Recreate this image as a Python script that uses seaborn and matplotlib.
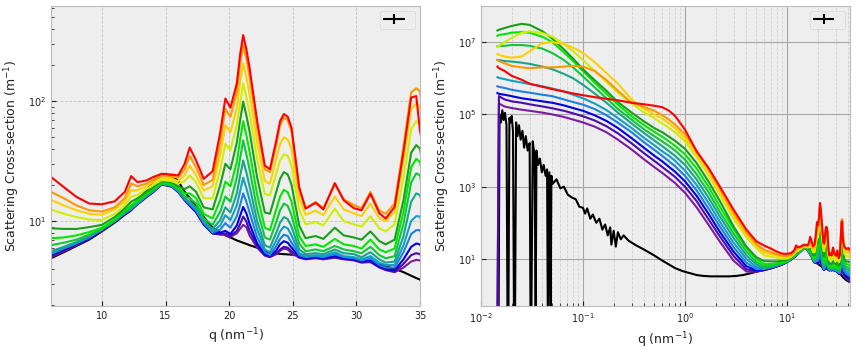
import pandas as pd
import matplotlib
matplotlib.use('Agg')
import matplotlib.pyplot as plt
import matplotlib.ticker as mticker
import seaborn as sns

plt.style.use('bmh')
plt.rcParams['font.family'] = ['DejaVu Sans']
plt.rcParams['mathtext.fontset'] = 'dejavusans'

# q grids (nm^-1)
q_lo = [0.0145, 0.015, 0.017, 0.02, 0.025, 0.03, 0.04, 0.05, 0.065,
        0.08, 0.1, 0.13, 0.17, 0.22, 0.3, 0.4, 0.5, 0.6,
        0.7, 0.8, 1.0, 1.3, 1.7, 2.2, 3.0, 4.0, 5.0]
q_hi = [6, 7, 8, 9, 10, 11,
        11.8, 12.3, 12.8, 13.5, 14.0, 14.7,
        15.5, 16.0, 16.5, 16.9, 17.4, 18.0,
        18.7, 19.3, 19.7, 20.1, 20.6, 20.85, 21.1, 21.35,
        21.6, 22.2, 22.8, 23.2, 23.7, 24.0, 24.3, 24.6,
        24.9, 25.5, 26.0, 26.8, 27.4, 28.3,
        29.0, 29.8, 30.4, 31.1, 31.8, 32.3,
        33.0, 33.7, 34.3, 34.7, 35.0,
        35.5, 36.5, 38, 40, 41.5]

# black (reference) curve, noisy at low q
q_black_lo = [0.0149, 0.0152, 0.0157, 0.0162, 0.0167, 0.0172, 0.0178, 0.0182, 0.0186, 0.0190,
              0.0195, 0.0200, 0.0206, 0.0211, 0.0216, 0.0221, 0.0228, 0.0236, 0.0245, 0.0255,
              0.0265, 0.0275, 0.0287, 0.0300, 0.0306, 0.0312, 0.0322, 0.0335, 0.0344, 0.0350,
              0.0362, 0.0378, 0.0395, 0.0412, 0.0430, 0.0445, 0.0452, 0.0468, 0.0482, 0.0490,
              0.0505, 0.055, 0.060, 0.065, 0.071, 0.078, 0.085, 0.092, 0.10, 0.105,
              0.11, 0.118, 0.125, 0.135, 0.145, 0.155, 0.165, 0.175, 0.185, 0.19,
              0.20, 0.21, 0.22, 0.235, 0.25, 0.28, 0.33, 0.4, 0.5, 0.6,
              0.7, 0.8, 0.95, 1.1, 1.3, 1.5, 1.8, 2.2, 2.7, 3.2,
              3.7, 4.2, 4.8, 5.3]
I_black_lo = [0.3, 1.0e5, 6e4, 1.3e5, 7e4, 1.1e5, 5e4, 0.3, 0.3, 8e4,
              6e4, 9e4, 3.5e4, 0.3, 0.3, 6e4, 2.5e4, 5e4, 2e4, 3.5e4,
              1.2e4, 2.5e4, 1.0e4, 1.6e4, 0.3, 0.3, 1.8e4, 7e3, 0.3, 1.0e4,
              4e3, 6e3, 2.5e3, 4e3, 2e3, 3e3, 0.3, 2.5e3, 0.3, 2e3,
              1.2e3, 1.6e3, 900, 1.0e3, 600, 500, 450, 280, 260, 180,
              250, 130, 170, 100, 130, 65, 90, 45, 75, 25,
              60, 22, 55, 35, 45, 32, 24, 18, 12.5, 9.0,
              7.0, 5.6, 4.6, 4.1, 3.6, 3.4, 3.3, 3.3, 3.3, 3.4,
              3.6, 3.9, 4.3, 4.6]
I_black_hi = [4.9, 5.5, 6.2, 7.0, 8.2, 9.7,
              11.3, 12.3, 14.5, 18, 21, 24.5,
              24, 21.5, 17.5, 15.5, 13.5, 10.8,
              8.8, 8.0, 7.6, 7.3, 6.9, 6.75, 6.6, 6.45,
              6.3, 6.0, 5.6, 5.45, 5.35, 5.32, 5.3, 5.28,
              5.25, 5.2, 5.15, 5.1, 5.05, 5.0,
              4.95, 4.85, 4.7, 4.55, 4.35, 4.2,
              4.0, 3.75, 3.5, 3.35, 3.25,
              3.1, 2.9, 2.6, 2.4, 2.3]

I_purple_lo = [0.2, 2.0e5, 1.66e5, 1.5e5, 1.35e5, 1.26e5, 1.12e5, 1.0e5, 8.5e4,
               7.2e4, 6.0e4, 4.6e4, 3.2e4, 2.0e4, 1.07e4, 5.6e3, 3.5e3, 2.4e3,
               1.7e3, 1.26e3, 680, 270, 89, 30, 8.9, 4.5, 4.4]
I_purple_hi = [5.0, 5.6, 6.3, 7.1, 8.3, 9.8,
               11.4, 12.4, 13.8, 15.8, 17.3, 20.2,
               19.3, 17.4, 14.9, 13.4, 11.8, 9.3,
               7.9, 7.7, 7.7, 7.4, 7.9, 8.6, 9.3, 8.9,
               7.6, 6.0, 5.15, 5.0, 5.3, 5.65, 5.9, 5.8,
               5.4, 4.95, 4.8, 4.9, 4.8, 4.95,
               4.8, 4.7, 4.5, 4.55, 4.1, 3.9,
               3.75, 4.1, 4.6, 4.75, 4.7,
               4.0, 3.4, 2.9, 2.6, 2.4]

I_indigo_lo = [0.2, 3.2e5, 2.6e5, 2.3e5, 2.1e5, 1.9e5, 1.66e5, 1.48e5, 1.26e5,
               1.07e5, 8.9e4, 6.8e4, 4.7e4, 3.0e4, 1.58e4, 8.3e3, 5.2e3, 3.5e3,
               2.5e3, 1.86e3, 1.0e3, 400, 126, 42, 12, 5.2, 4.6]
I_indigo_hi = [5.1, 5.7, 6.35, 7.15, 8.35, 9.85,
               11.45, 12.45, 13.85, 15.9, 17.4, 20.3,
               19.4, 17.5, 15, 13.5, 11.9, 9.4,
               7.9, 7.8, 7.9, 7.5, 8.3, 9.4, 10.9, 9.9,
               8.3, 6.2, 5.2, 5.05, 5.4, 5.8, 6.1, 6.0,
               5.6, 5.0, 4.85, 4.95, 4.85, 5.0,
               4.85, 4.75, 4.55, 4.6, 4.15, 3.95,
               3.8, 4.4, 5.2, 5.4, 5.3,
               4.4, 3.6, 3.1, 2.8, 2.6]

I_blue_lo = [3.9e5, 3.7e5, 3.5e5, 3.2e5, 2.8e5, 2.6e5, 2.3e5, 2.1e5, 1.78e5,
             1.5e5, 1.26e5, 9.5e4, 6.6e4, 4.2e4, 2.2e4, 1.17e4, 7.2e3, 5.0e3,
             3.5e3, 2.6e3, 1.41e3, 560, 178, 56, 15.8, 6.3, 4.8]
I_blue_hi = [5.2, 5.8, 6.4, 7.2, 8.4, 9.9,
             11.5, 12.5, 13.9, 16, 17.5, 20.4,
             19.5, 17.6, 15.1, 13.6, 12, 9.5,
             7.9, 8.0, 8.3, 7.8, 9.2, 11.0, 13.1, 11.6,
             9.5, 6.5, 5.3, 5.1, 5.7, 6.4, 6.8, 6.6,
             6.0, 5.1, 4.9, 5.0, 4.9, 5.1,
             4.9, 4.8, 4.6, 4.7, 4.2, 4.0,
             3.9, 4.8, 6.1, 6.5, 6.4,
             5, 4, 3.4, 3.1, 2.9]

I_dodger_lo = [6.0e5, 5.8e5, 5.4e5, 4.8e5, 4.3e5, 4.0e5, 3.5e5, 3.2e5, 2.6e5,
               2.2e5, 1.86e5, 1.41e5, 9.5e4, 5.9e4, 3.2e4, 1.66e4, 1.05e4, 7.1e3,
               5.0e3, 3.7e3, 2.0e3, 790, 250, 79, 21, 7.9, 5.2]
I_dodger_hi = [5.3, 5.9, 6.5, 7.3, 8.5, 10,
               11.6, 12.6, 14, 16.1, 17.6, 20.5,
               19.6, 17.7, 15.2, 13.8, 12.2, 9.6,
               8.0, 8.5, 9.6, 8.8, 11, 13.5, 17, 14.5,
               11.8, 7.3, 5.5, 5.2, 6.2, 7.1, 7.7, 7.5,
               6.6, 5.2, 5.0, 5.1, 5.0, 5.3,
               5.0, 4.9, 4.7, 4.9, 4.3, 4.1,
               4.1, 5.5, 7.8, 8.4, 8.4,
               6, 4.5, 3.9, 3.6, 3.3]

I_cyan_lo = [1.07e6, 1.02e6, 9.5e5, 8.5e5, 7.6e5, 6.9e5, 6.0e5, 5.2e5, 4.3e5,
             3.5e5, 2.8e5, 2.0e5, 1.32e5, 7.9e4, 4.2e4, 2.2e4, 1.41e4, 9.5e3,
             7.1e3, 5.2e3, 2.8e3, 1.12e3, 355, 107, 28, 10, 6.0]
I_cyan_hi = [5.4, 6.0, 6.6, 7.4, 8.5, 10,
             11.7, 12.7, 14, 16.2, 17.7, 20.5,
             19.7, 17.8, 15.3, 14, 12.5, 9.8,
             8.2, 9.2, 11.2, 10.2, 13.5, 17.5, 23, 18.8,
             15, 8.5, 5.8, 5.5, 6.9, 8.2, 9.0, 8.7,
             7.6, 5.4, 5.1, 5.2, 5.1, 5.5,
             5.1, 5.0, 4.8, 5.1, 4.5, 4.3,
             4.3, 6.3, 10, 11, 10.9,
             7.5, 5.2, 4.5, 4.2, 3.9]

I_teal_lo = [3.2e6, 3.2e6, 3.0e6, 2.9e6, 2.7e6, 2.5e6, 2.1e6, 1.78e6, 1.32e6,
             1.0e6, 6.6e5, 3.8e5, 2.1e5, 1.12e5, 5.6e4, 3.0e4, 1.9e4, 1.32e4,
             9.5e3, 7.1e3, 4.0e3, 1.58e3, 500, 148, 38, 12.6, 7.1]
I_teal_hi = [5.6, 6.1, 6.7, 7.5, 8.5, 10,
             11.8, 12.8, 14.2, 16.3, 17.8, 20.5,
             19.8, 18, 15.5, 14.5, 13, 10,
             8.6, 10.2, 13, 11.8, 17, 23.5, 32, 25.5,
             19.5, 10, 6.3, 6.0, 8, 9.7, 10.8, 10.4,
             9, 5.8, 5.3, 5.4, 5.3, 5.8,
             5.4, 5.3, 5.0, 5.5, 4.8, 4.5,
             4.6, 7.5, 14.5, 17, 16.5,
             9.5, 6, 5.2, 5, 4.6]

I_green_lo = [7.6e6, 7.8e6, 7.9e6, 8.3e6, 8.3e6, 7.9e6, 6.6e6, 5.0e6, 3.2e6,
              2.0e6, 1.12e6, 5.6e5, 2.8e5, 1.41e5, 7.1e4, 3.8e4, 2.5e4, 1.78e4,
              1.32e4, 1.0e4, 5.6e3, 2.2e3, 710, 200, 50, 16, 8.3]
I_green_hi = [6.3, 6.6, 7.0, 7.7, 8.6, 10.1,
              12, 13, 14.5, 16.5, 18, 20.5,
              20, 18.5, 16, 15.5, 14, 10.5,
              9.3, 12, 16, 14.5, 23, 33, 47, 36,
              27, 12.5, 7.3, 7.0, 9.8, 12.3, 14, 13.4,
              11.2, 6.5, 5.6, 5.8, 5.6, 6.2,
              5.8, 5.6, 5.4, 6.1, 5.2, 4.9,
              5.1, 9.5, 21, 25, 24,
              12, 7, 6, 5.8, 5.4]

I_lime_lo = [1.5e7, 1.58e7, 1.66e7, 1.82e7, 1.9e7, 1.82e7, 1.41e7, 1.0e7, 5.2e6,
             3.0e6, 1.58e6, 7.6e5, 3.7e5, 1.86e5, 8.9e4, 5.0e4, 3.3e4, 2.4e4,
             1.78e4, 1.35e4, 7.9e3, 3.2e3, 1.0e3, 280, 66, 20, 10]
I_lime_hi = [7.2, 7.3, 7.6, 8.1, 8.8, 10.3,
             12.3, 13.5, 15, 17, 18.5, 21,
             20.5, 19, 17, 17, 15.5, 11.5,
             10.5, 15, 21.3, 19.5, 31, 47, 68, 52,
             38, 16.5, 8.8, 8.4, 12.5, 16, 18.2, 17.4,
             14.5, 7.5, 6.2, 6.4, 6.1, 7.1,
             6.4, 6.2, 5.9, 7.0, 5.8, 5.5,
             5.9, 12, 28, 33, 31,
             16, 8.5, 7.2, 7, 6.5]

I_dgreen_lo = [2.1e7, 2.2e7, 2.45e7, 2.8e7, 3.2e7, 3.0e7, 2.0e7, 1.26e7, 6.3e6,
               3.5e6, 1.78e6, 8.9e5, 4.5e5, 2.2e5, 1.12e5, 6.3e4, 4.2e4, 3.2e4,
               2.4e4, 1.86e4, 1.12e4, 4.5e3, 1.4e3, 400, 79, 22, 11.2]
I_dgreen_hi = [8.7, 8.6, 8.6, 8.9, 9.3, 10.8,
               12.8, 14.5, 15.5, 17.5, 19, 21.5,
               21, 19.5, 18.5, 19.5, 17.5, 13,
               12.5, 20, 30, 27, 45, 68, 99, 76,
               56, 23, 11.8, 11.5, 17.5, 22.5, 25.6, 24.5,
               20, 9.2, 7.2, 7.5, 7.1, 8.8,
               7.6, 7.3, 7, 8.2, 6.8, 6.4,
               7, 15, 37, 43, 40,
               20, 10, 8.5, 8.5, 8]

I_ygreen_lo = [7.4e6, 7.8e6, 1.0e7, 1.3e7, 1.8e7, 2.0e7, 1.78e7, 1.41e7, 8.9e6,
               5.6e6, 3.2e6, 1.6e6, 7.9e5, 4.0e5, 2.0e5, 1.12e5, 7.9e4, 5.6e4,
               4.2e4, 3.2e4, 1.78e4, 6.6e3, 2.1e3, 590, 130, 40, 20]
I_ygreen_hi = [12.5, 11.5, 10.8, 10.3, 10.2, 11.5,
               13.5, 16, 16.5, 18.5, 20, 22,
               21.5, 20.5, 21.5, 24, 21, 15.5,
               15.5, 27, 44, 39, 64, 95, 140, 108,
               80, 33, 16.8, 16.4, 25, 32, 36, 35,
               29, 12.5, 9.4, 9.8, 9.2, 12.7,
               10, 9.4, 9, 11, 8.7, 8.2,
               9.4, 23, 58, 68, 64,
               30, 14, 12, 12, 11]

I_gold_lo = [4.7e6, 4.5e6, 4.0e6, 3.7e6, 4.0e6, 5.6e6, 9.3e6, 1.0e7, 8.9e6,
             7.1e6, 5.0e6, 2.8e6, 1.4e6, 7.1e5, 2.6e5, 1.4e5, 1.0e5, 7.6e4,
             5.6e4, 4.2e4, 2.2e4, 7.9e3, 2.5e3, 710, 160, 47, 23]
I_gold_hi = [15, 13.5, 12.3, 11.5, 11.3, 12.5,
             14.5, 18, 18, 19.5, 21, 23,
             22.5, 21.5, 24, 29, 24, 18,
             19.5, 36, 63, 55, 88, 140, 206, 158,
             115, 45, 21.5, 20.5, 33, 44, 50, 48,
             40, 15.5, 11.3, 12.2, 11.2, 16,
             12.5, 11.6, 11, 14, 10.5, 10,
             12, 32, 85, 96, 90,
             40, 18, 15, 15, 13.5]

I_orange_lo = [3.2e6, 3.0e6, 2.6e6, 2.2e6, 2.0e6, 1.9e6, 2.0e6, 2.0e6, 2.1e6,
               2.2e6, 2.1e6, 1.6e6, 8.9e5, 4.5e5, 2.1e5, 1.6e5, 1.26e5, 9.5e4,
               7.1e4, 5.2e4, 2.8e4, 1.0e4, 3.2e3, 890, 190, 55, 26]
I_orange_hi = [17.5, 15.5, 13.5, 12.3, 12.0, 13.0,
               15.5, 20.5, 19.5, 20.5, 22, 24,
               23.5, 23, 27, 35, 28, 20,
               22, 46, 86, 74, 118, 200, 293, 225,
               160, 60, 27, 25.5, 43, 63, 73, 69,
               56, 18.5, 12.8, 14.4, 12.8, 20.3,
               15.2, 13.6, 12.8, 17.5, 12.2, 11.5,
               14, 42, 118, 128, 120,
               45, 22, 18, 18, 16]

I_red_lo = [2.1e6, 1.9e6, 1.6e6, 1.17e6, 9.1e5, 7.1e5, 5.8e5, 5.0e5, 4.3e5,
            3.8e5, 3.4e5, 3.0e5, 2.7e5, 2.45e5, 2.1e5, 1.9e5, 1.74e5, 1.58e5,
            1.26e5, 9.1e4, 3.8e4, 9.5e3, 3.3e3, 1.0e3, 230, 65, 31]
I_red_hi = [23.3, 19.2, 15.9, 14.0, 13.8, 14.6,
            17.5, 23.7, 21.1, 21.8, 23.2, 24.8,
            24.4, 24.0, 30, 41, 32, 22.5,
            26, 55, 105, 88, 140, 240, 355, 270,
            190, 68, 29, 27, 47, 68, 78, 74,
            60, 19.2, 12.7, 14.2, 12.5, 20.7,
            14.9, 12.8, 12.3, 16.9, 11.6, 10.5,
            13.1, 38, 107, 110, 56,
            30, 22, 19, 20, 18]

names = ['black', 'purple', 'indigo', 'blue', 'dodger', 'cyan', 'teal',
         'green', 'lime', 'dgreen', 'ygreen', 'gold', 'orange', 'red']
colors = ['black', '#7d1aa0', '#4a0bb0', '#0000e6', '#1e80e0', '#12a0c4', '#1aa48c',
          '#0fc83a', '#00e800', '#1a9e1a', '#cfef00', '#ffd000', '#ff9800', '#ff0000']

curves = [
    ('black', q_black_lo, I_black_lo, I_black_hi),
    ('purple', q_lo, I_purple_lo, I_purple_hi),
    ('indigo', q_lo, I_indigo_lo, I_indigo_hi),
    ('blue', q_lo, I_blue_lo, I_blue_hi),
    ('dodger', q_lo, I_dodger_lo, I_dodger_hi),
    ('cyan', q_lo, I_cyan_lo, I_cyan_hi),
    ('teal', q_lo, I_teal_lo, I_teal_hi),
    ('green', q_lo, I_green_lo, I_green_hi),
    ('lime', q_lo, I_lime_lo, I_lime_hi),
    ('dgreen', q_lo, I_dgreen_lo, I_dgreen_hi),
    ('ygreen', q_lo, I_ygreen_lo, I_ygreen_hi),
    ('gold', q_lo, I_gold_lo, I_gold_hi),
    ('orange', q_lo, I_orange_lo, I_orange_hi),
    ('red', q_lo, I_red_lo, I_red_hi),
]

frames = []
for name, qs, lo, hi in curves:
    frames.append(pd.DataFrame({'q': list(qs) + q_hi, 'I': lo + hi, 'sample': name}))
df = pd.concat(frames, ignore_index=True)

fig, (ax1, ax2) = plt.subplots(1, 2, figsize=(8.56, 3.52), dpi=100)
fig.subplots_adjust(left=0.0596, right=0.993, bottom=0.1307, top=0.983, wspace=0.165)

for ax in (ax1, ax2):
    sns.lineplot(data=df, x='q', y='I', hue='sample', hue_order=names, palette=colors,
                 estimator=None, sort=False, legend=False, linewidth=1.5, ax=ax)
    ax.set_yscale('log')
    ax.set_xlabel('q (nm$^{-1}$)', fontsize=9, color='#222222')
    ax.set_ylabel('Scattering Cross-section (m$^{-1}$)', fontsize=9, color='#222222')
    ax.tick_params(which='both', direction='in', labelsize=7, colors='#222222')
    for s in ax.spines.values():
        s.set_color('#bcbcbc')
    eb = ax.errorbar([], [], yerr=[], color='black', lw=1.5)
    leg = ax.legend([eb], [''], loc='upper right', fontsize=7, frameon=True,
                    facecolor='#eeeeee', edgecolor='#d5d5d5', framealpha=0.9)

# left panel: linear q, zoom on the wide-angle peaks
ax1.set_xlim(6, 35)
ax1.set_ylim(1.96, 620)
ax1.set_xticks([10, 15, 20, 25, 30, 35])
ax1.grid(False)
ax1.grid(which='major', linestyle='--', color='#c4c4c4', linewidth=0.6)

# right panel: log-log, full q range
ax2.set_xscale('log')
ax2.set_xlim(0.01, 41.5)
ax2.set_ylim(0.5, 1e8)
ax2.set_yticks([1e1, 1e3, 1e5, 1e7])
ax2.yaxis.set_minor_locator(mticker.NullLocator())
ax2.grid(False)
ax2.grid(which='major', linestyle='-', color='#a6a6a6', linewidth=0.8)
ax2.grid(which='minor', axis='x', linestyle='--', color='#d2d2d2', linewidth=0.6)

plt.savefig('out.png', dpi=100)
